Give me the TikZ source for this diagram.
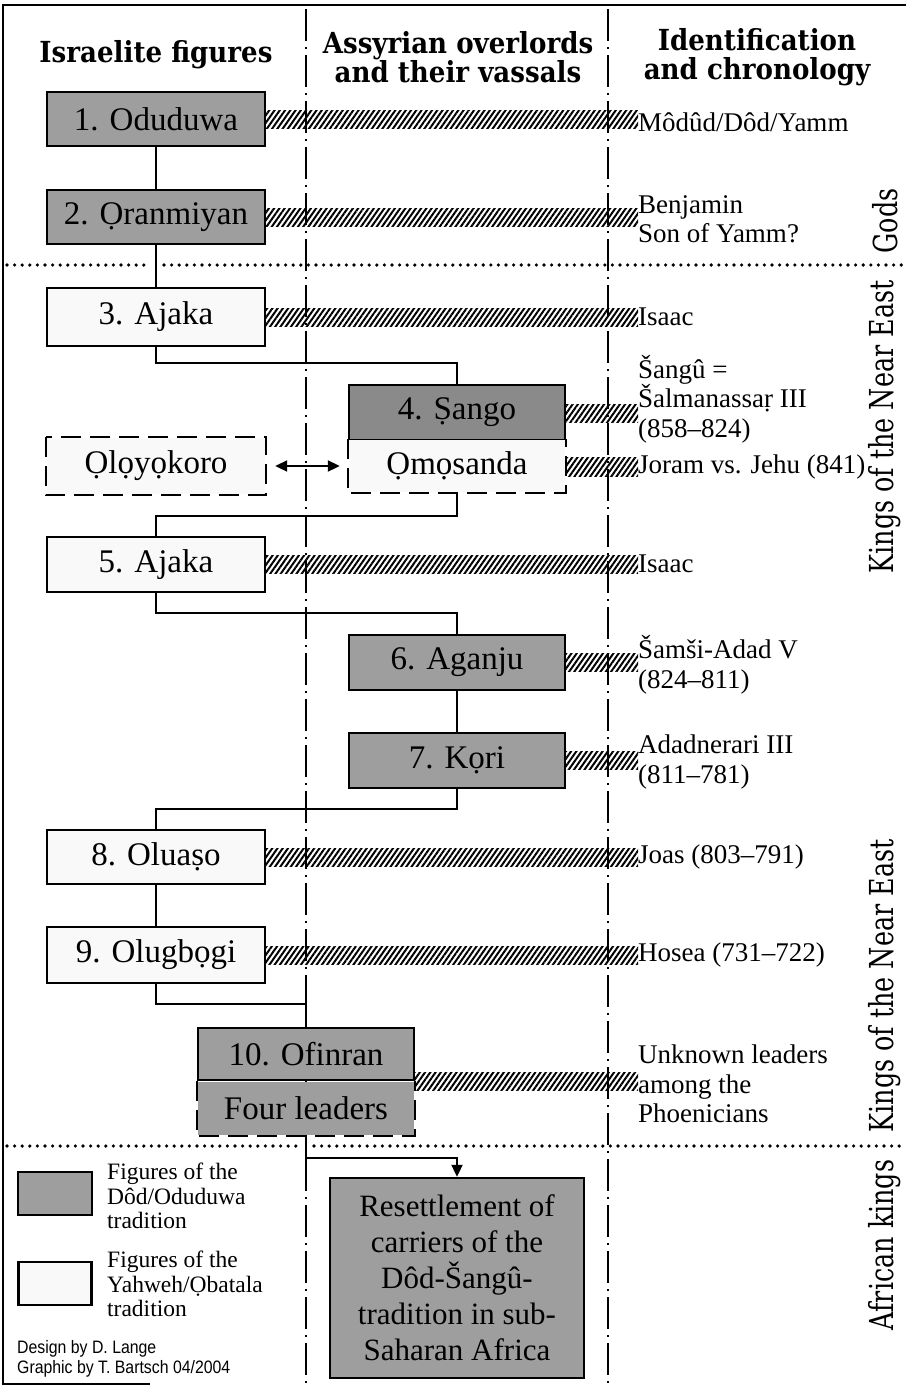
\documentclass[tikz,border=0pt]{standalone}
\usepackage{fontspec}
\setmainfont{Liberation Serif}
\newfontfamily\headfont[FakeStretch=0.9]{DejaVu Serif}
\newfontfamily\sidefont[FakeStretch=0.77]{DejaVu Serif}
\newfontfamily\credfont[FakeStretch=0.88]{Liberation Sans}
\usetikzlibrary{patterns.meta,arrows.meta}
\definecolor{dodgray}{gray}{0.62}
\definecolor{dodgraydark}{gray}{0.54}
\definecolor{yahwhite}{gray}{0.975}
\tikzset{
  fig/.style={line width=2.4pt, minimum width=218pt, minimum height=54pt, inner sep=0pt,
    font=\fontsize{33}{36}\selectfont},
  dodbox/.style={fig, draw=black, fill=dodgray},
  yahbox/.style={fig, draw=black, fill=yahwhite},
  openbox/.style={fig, draw=none},
  dashside/.style={line width=2.4pt, dash pattern=on 20pt off 9pt},
  link/.style={line width=2pt},
  hatch/.style={pattern={Lines[angle=55,distance=4.3pt,line width=2pt]}},
  divider/.style={line width=1.6pt, dash pattern=on 32pt off 6pt on 2pt off 6pt},
  dotsep/.style={line width=3.6pt, line cap=round, dash pattern=on 0pt off 7.6pt},
  frame/.style={line width=2pt},
  ident/.style={anchor=west, inner sep=0pt, align=left, font=\fontsize{27}{29.5}\selectfont},
  head/.style={align=center, inner sep=0pt, font=\headfont\bfseries\fontsize{29}{29}\selectfont},
  side/.style={rotate=90, inner sep=0pt, font=\sidefont\fontsize{33}{35}\selectfont},
  legtext/.style={anchor=west, inner sep=0pt, align=left, font=\fontsize{23.5}{24.5}\selectfont},
  credit/.style={anchor=west, inner sep=0pt, font=\credfont\fontsize{18}{19}\selectfont},
  bigtip/.style={-{Triangle[length=12pt,width=11pt]}},
}
\begin{document}
\begin{tikzpicture}[x=1pt,y=-1pt]
\useasboundingbox (0,0) rectangle (906,1387);

% frame
\draw[frame] (906,5) -- (3,5) -- (3,1384) -- (150,1384);

% column dividers
\draw[divider] (306,9) -- (306,1383);
\draw[divider] (608,9) -- (608,1383);

% dotted separators
\draw[dotsep] (7,265) -- (150,265);
\draw[dotsep] (164,265) -- (906,265);
\draw[dotsep] (7,1146) -- (299,1146);
\draw[dotsep] (314,1146) -- (906,1146);

% headers
\node[head] (h1) at (156,55) {Israelite figures};
\node[head] (h2) at (458,57) {Assyrian overlords\\and their vassals};
\node[head] (h3) at (757,57) {Identification\\and chronology};

% side labels
\node[side] (sgods) at (885,221) {Gods};
\node[side] (skne1) at (885,427) {Kings of the Near East};
\node[side] (skne2) at (885,986) {Kings of the Near East};
\node[side] (safr) at (885,1245) {African kings};

% figure boxes
\node[dodbox] (n1) at (156,119) {1. Oduduwa};
\node[dodbox] (n2) at (156,217) {2. Ọranmiyan};
\node[yahbox, minimum height=58pt] (n3) at (156,317) {3. Ajaka};
\node[dodbox, fill=dodgraydark, minimum width=216pt, minimum height=55pt] (n4) at (457,412.5) {4. Ṣango};
\node[openbox, fill=yahwhite, minimum width=216pt, minimum height=52pt] (omo) at (457,466) {Ọmọsanda};
\draw[dashside] (omo.north west) -- (omo.south west) -- (omo.south east) -- (omo.north east);
\node[openbox, fill=yahwhite, minimum height=56pt] (olo) at (156,466) {Ọlọyọkoro};
\draw[dashside] (olo.north west) rectangle (olo.south east);
\node[yahbox, minimum height=55pt] (n5) at (156,564.5) {5. Ajaka};
\node[dodbox, minimum width=216pt, minimum height=55pt] (n6) at (457,662.5) {6. Aganju};
\node[dodbox, minimum width=216pt, minimum height=55pt] (n7) at (457,760.5) {7. Kọri};
\node[yahbox] (n8) at (156,857) {8. Oluaṣo};
\node[yahbox, minimum height=56pt] (n9) at (156,955) {9. Olugbọgi};
\node[dodbox, minimum width=216pt, minimum height=52pt] (n10) at (306,1054) {10. Ofinran};
\node[openbox, fill=dodgray, minimum width=216pt, minimum height=53pt] (four) at (306,1108.5) {Four leaders};
\draw[dashside] (four.north west) -- (four.south west) -- (four.south east) -- (four.north east);
\node[dodbox, minimum width=254pt, minimum height=200pt, align=center,
  font=\fontsize{31}{36}\selectfont] (res) at (457,1278)
  {Resettlement of\\carriers of the\\Dôd-Šangû-\\tradition in sub-\\Saharan Africa};

% identifications
\node[ident] (i1) at (638,122) {Môdûd/Dôd/Yamm};
\node[ident] (i2) at (638,219) {Benjamin\\Son of Yamm?};
\node[ident] (i3) at (638,317) {Isaac};
\node[ident] (i4) at (638,399) {Šangû =\\Šalmanassaṛ III\\(858–824)};
\node[ident] (iomo) at (638,467) {Joram vs. Jehu (841)};
\node[ident] (i5) at (638,564) {Isaac};
\node[ident] (i6) at (638,665) {Šamši-Adad V\\(824–811)};
\node[ident] (i7) at (638,762) {Adadnerari III\\(811–781)};
\node[ident] (i8) at (638,857) {Joas (803–791)};
\node[ident] (i9) at (638,955) {Hosea (731–722)};
\node[ident] (i10) at (638,1084) {Unknown leaders\\among the\\Phoenicians};

% hatched links
\fill[hatch] ([yshift=9pt]n1.east) rectangle ([yshift=-9pt]n1.east -| i1.west);
\fill[hatch] ([yshift=9pt]n2.east) rectangle ([yshift=-9pt]n2.east -| i2.west);
\fill[hatch] ([yshift=9pt]n3.east) rectangle ([yshift=-9pt]n3.east -| i3.west);
\fill[hatch] ([yshift=8pt]n4.east) rectangle ([yshift=-10pt]n4.east -| i4.west);
\fill[hatch] ([yshift=9pt]omo.east) rectangle ([yshift=-10pt]omo.east -| iomo.west);
\fill[hatch] ([yshift=9pt]n5.east) rectangle ([yshift=-9pt]n5.east -| i5.west);
\fill[hatch] ([yshift=9pt]n6.east) rectangle ([yshift=-9pt]n6.east -| i6.west);
\fill[hatch] ([yshift=9pt]n7.east) rectangle ([yshift=-9pt]n7.east -| i7.west);
\fill[hatch] ([yshift=9pt]n8.east) rectangle ([yshift=-9pt]n8.east -| i8.west);
\fill[hatch] ([yshift=9pt]n9.east) rectangle ([yshift=-9pt]n9.east -| i9.west);
\fill[hatch] ([yshift=9pt]n10.south east) rectangle ([yshift=-9pt]n10.south east -| i10.west);

% genealogical links
\draw[link] (n1) -- (n2);
\draw[link] (n2) -- (n3);
\draw[link] (n3.south) -- ++(0,16) -| (n4.north);
\draw[link] (omo.south) -- ++(0,23) -| (n5.north);
\draw[link] (n5.south) -- ++(0,20) -| (n6.north);
\draw[link] (n6) -- (n7);
\draw[link] (n7.south) -- ++(0,20) -| (n8.north);
\draw[link] (n8) -- (n9);
\draw[link] (n9.south) -- ++(0,20) -| (n10.north);
\draw[link, bigtip] (four.south) -- ++(0,22) -| (res.north);
\draw[link, {Triangle[length=12pt,width=11pt]}-{Triangle[length=12pt,width=11pt]},
  shorten <=9pt, shorten >=8pt] (olo.east) -- (omo.west);

% legend
\node[draw=black, line width=2.4pt, fill=dodgray, minimum width=74pt, minimum height=43pt,
  inner sep=0pt] (legd) at (55,1193.5) {};
\node[legtext] (legdt) at (107,1196) {Figures of the\\Dôd/Oduduwa\\tradition};
\node[draw=black, line width=2.4pt, fill=yahwhite, minimum width=73pt, minimum height=43pt,
  inner sep=0pt] (legy) at (55,1283.5) {};
\node[legtext] (legyt) at (107,1284) {Figures of the\\Yahweh/Ọbatala\\tradition};
\node[credit] (c1) at (17,1349) {Design by D. Lange};
\node[credit] (c2) at (17,1369) {Graphic by T. Bartsch 04/2004};
\end{tikzpicture}
\end{document}
